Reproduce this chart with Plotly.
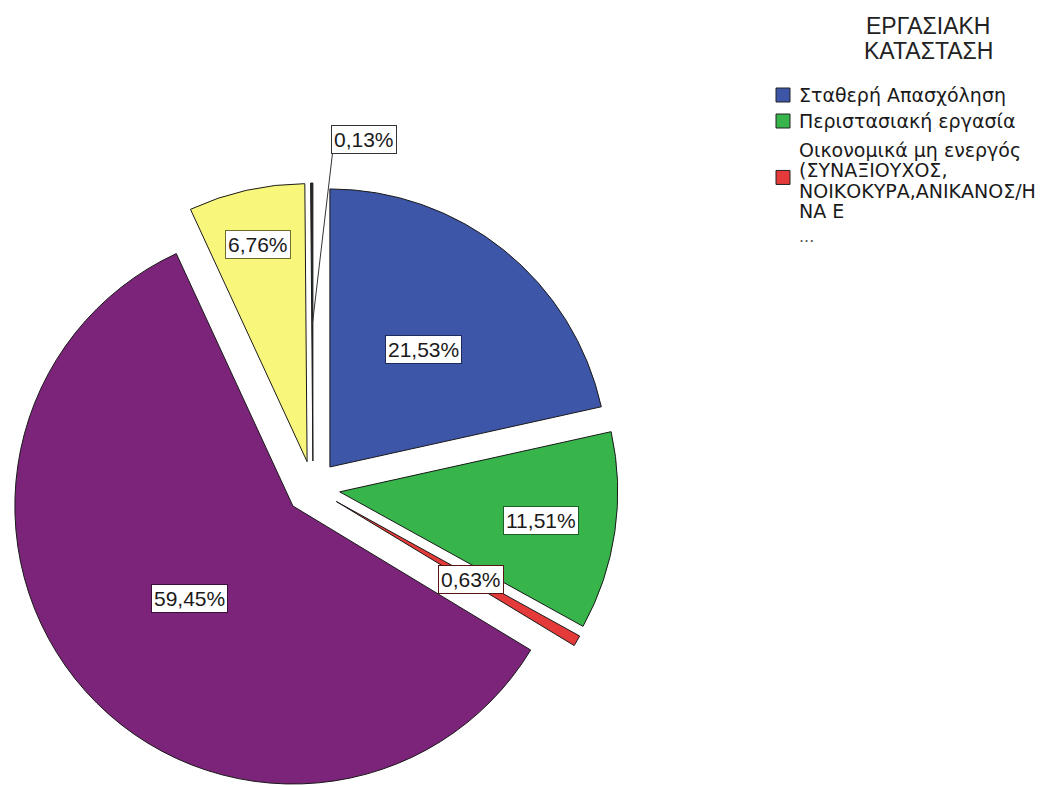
import math
import plotly.graph_objects as go

# ---------------- data ----------------
categories = [
    "Σταθερή Απασχόληση",
    "Περιστασιακή εργασία",
    "Οικονομικά μη ενεργός (ΣΥΝΑΞΙΟΥΧΟΣ, ΝΟΙΚΟΚΥΡΑ,ΑΝΙΚΑΝΟΣ/Η ΝΑ Ε ...",
    "Κατηγορία 4",
    "Κατηγορία 5",
    "Κατηγορία 6",
]
percentages = [21.53, 11.51, 0.63, 59.45, 6.76, 0.13]
slice_colors = ["#3d56a8", "#37b44a", "#e43a3a", "#7b2479", "#f9f67c", "#2a2a2a"]
label_border_colors = ["#1e2b5c", "#1d5e27", "#5a1515", "#3a0f3a", "#6e6c2c", "#333333"]

legend_title_lines = ["ΕΡΓΑΣΙΑΚΗ", "ΚΑΤΑΣΤΑΣΗ"]
legend_entries = [
    ["Σταθερή Απασχόληση"],
    ["Περιστασιακή εργασία"],
    ["Οικονομικά μη ενεργός", "(ΣΥΝΑΞΙΟΥΧΟΣ,", "ΝΟΙΚΟΚΥΡΑ,ΑΝΙΚΑΝΟΣ/Η", "ΝΑ Ε"],
]
legend_more = "..."

# ---------------- layout constants ----------------
W, H = 1058, 785
PAGE_OFFSET = 8                       # default body margin of the html page
PULL = 0.097
CX, CY, HALF = 313, 488, 305          # pie box centre / half size (screen px)
R = HALF / (1 + PULL)                 # plotly's pie radius
LABEL_FRAC = [0.54, 0.73, 0.56, 0.50, 0.80, None]
SMALL_LABEL_OFFSET = (52, -44)        # px offset of outside label from arc tip
LEADER_FRAC = 0.49

def px2paper(x, y):
    return (x - PAGE_OFFSET) / W, 1 - (y - PAGE_OFFSET) / H

def fmt(v):
    return f"{v:.2f}".replace(".", ",") + "%"

bx0, by0 = px2paper(CX - HALF, CY + HALF)
bx1, by1 = px2paper(CX + HALF, CY - HALF)

fig = go.Figure()
fig.add_trace(go.Pie(
    labels=categories,
    values=percentages,
    sort=False,
    direction="clockwise",
    rotation=0,
    pull=[PULL] * len(percentages),
    marker=dict(colors=slice_colors, line=dict(color="#1a1a1a", width=1)),
    textinfo="none",
    hoverinfo="label+percent",
    showlegend=False,
    domain=dict(x=[max(bx0, 0), min(bx1, 1)], y=[max(by0, 0), min(by1, 1)]),
))

annotations = []
shapes = []
total = sum(percentages)
cum = 0.0
for i, v in enumerate(percentages):
    mid = (cum + v / 2) / total * 2 * math.pi
    cum += v
    dx, dy = math.sin(mid), -math.cos(mid)
    ax_, ay_ = CX + PULL * R * dx, CY + PULL * R * dy
    if LABEL_FRAC[i] is not None:
        lx, ly = ax_ + LABEL_FRAC[i] * R * dx, ay_ + LABEL_FRAC[i] * R * dy
        leader = None
    else:
        tipx, tipy = ax_ + R * dx, ay_ + R * dy
        lx, ly = tipx + SMALL_LABEL_OFFSET[0], tipy + SMALL_LABEL_OFFSET[1]
        leader = (ax_ + LEADER_FRAC * R * dx, ay_ + LEADER_FRAC * R * dy)
    xp, yp = px2paper(lx, ly)
    annotations.append(dict(
        x=xp, y=yp, xref="paper", yref="paper", showarrow=False,
        text=fmt(v), font=dict(family="Liberation Sans, Arial", size=21, color="#1a1a1a"),
        bgcolor="white", bordercolor=label_border_colors[i], borderwidth=1, borderpad=2,
        xanchor="center", yanchor="middle",
    ))
    if leader is not None:
        x0, y0 = px2paper(*leader)
        x1, y1 = px2paper(lx - 31, ly + 12)
        shapes.append(dict(type="line", xref="paper", yref="paper",
                           x0=x0, y0=y0, x1=x1, y1=y1,
                           line=dict(color="#333333", width=1)))

# ---------------- manual legend ----------------
TITLE_X, TITLE_Y0, TITLE_DY = 928, 26, 25
for k, line in enumerate(legend_title_lines):
    xp, yp = px2paper(TITLE_X, TITLE_Y0 + k * TITLE_DY)
    annotations.append(dict(x=xp, y=yp, xref="paper", yref="paper", showarrow=False,
                            text=line, xanchor="center", yanchor="middle",
                            font=dict(family="Liberation Sans, Arial", size=23, color="#222222")))

SQ_X0, SQ_SIZE, TEXT_X = 776, 14, 797
item_first_line_y = [95, 121, 150]
LINE_DY = 20.3
for i, lines in enumerate(legend_entries):
    y0 = item_first_line_y[i]
    for k, line in enumerate(lines):
        xp, yp = px2paper(TEXT_X, y0 + k * LINE_DY)
        annotations.append(dict(x=xp, y=yp, xref="paper", yref="paper", showarrow=False,
                                text=line, xanchor="left", yanchor="middle",
                                font=dict(family="DejaVu Sans", size=19, color="#1a1a1a")))
    yc = y0 + (len(lines) - 1) * LINE_DY / 2 - (3 if len(lines) > 1 else 0)
    xa, ya = px2paper(SQ_X0, yc - SQ_SIZE / 2)
    xb, yb = px2paper(SQ_X0 + SQ_SIZE, yc + SQ_SIZE / 2)
    shapes.append(dict(type="rect", xref="paper", yref="paper", x0=xa, x1=xb, y0=ya, y1=yb,
                       fillcolor=slice_colors[i], line=dict(color="#222222", width=1)))
xp, yp = px2paper(TEXT_X, 237)
annotations.append(dict(x=xp, y=yp, xref="paper", yref="paper", showarrow=False,
                        text=legend_more, xanchor="left", yanchor="middle",
                        font=dict(family="DejaVu Sans", size=16, color="#555555")))

fig.update_layout(
    width=W, height=H,
    margin=dict(l=0, r=0, t=0, b=0),
    paper_bgcolor="white", plot_bgcolor="white",
    annotations=annotations, shapes=shapes,
    showlegend=False,
)
fig.write_html("out.html")
